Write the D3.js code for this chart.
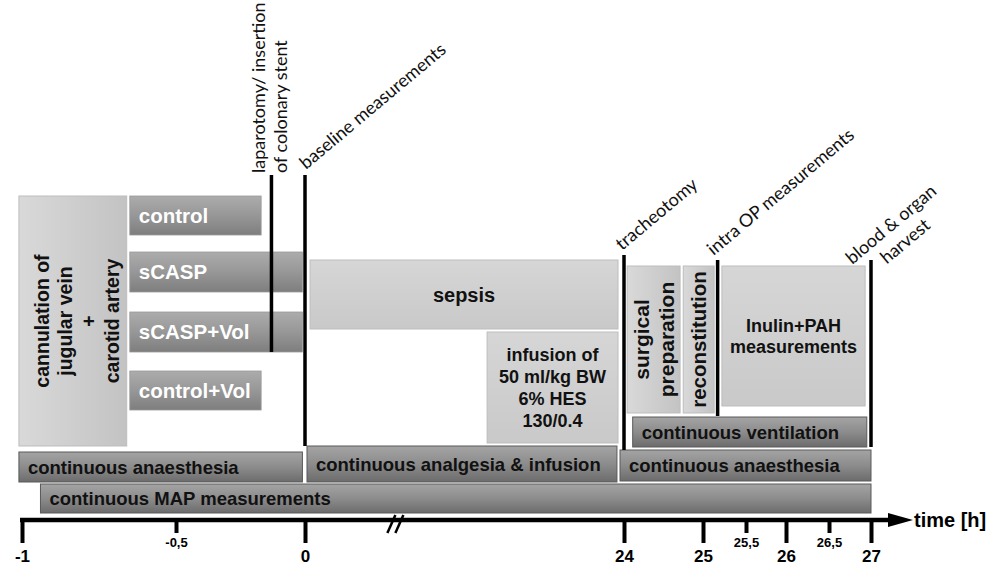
<!DOCTYPE html>
<html>
<head>
<meta charset="utf-8">
<script src="https://cdn.jsdelivr.net/npm/d3@7"></script>
<style>
  body { margin: 0; background: #fff; }
  svg { display: block; }
  .box-label { font-family: "Liberation Sans", Arial, sans-serif; font-weight: bold; }
  .event-label { font-family: Lato, "Open Sans", sans-serif; }
</style>
</head>
<body>
<svg id="chart" width="1002" height="565"></svg>
<script>
// time axis (hours), broken between 0 and 24
const timeBreaks = [-1, -0.5, 0, 24, 25, 25.5, 26, 26.5, 27];
const majorTicks = [-1, 0, 24, 25, 26, 27];
const minorTicks = [-0.5, 25.5, 26.5];
const axisBreakAt = 6.8;

// groups (start / end in hours)
const groups = ["control", "sCASP", "sCASP+Vol", "control+Vol"];
const groupStart = [-0.65, -0.65, -0.65, -0.65];
const groupEnd = [-0.17, -0.01, -0.01, -0.17];

// light procedure boxes
const procLabels = [
  ["cannulation of", "jugular vein", "+", "carotid artery"],
  ["sepsis"],
  ["infusion of", "50 ml/kg BW", "6% HES", "130/0.4"],
  ["surgical", "preparation"],
  ["reconstitution"],
  ["Inulin+PAH", "measurements"]
];
const procStart = [-1.01, 0.38, 13.7, 24.04, 24.75, 25.22];
const procEnd = [-0.66, 23.55, 23.55, 24.71, 25.13, 26.93];
const procLane = ["cannulation", "sepsis", "infusion", "prep", "prep", "inulin"];

// continuous bars
const contLabels = [
  "continuous anaesthesia",
  "continuous analgesia & infusion",
  "continuous anaesthesia",
  "continuous MAP measurements",
  "continuous ventilation"
];
const contStart = [-1.01, 0.15, 23.7, -0.94, 24.11];
const contEnd = [-0.01, 23.47, 27, 27, 26.95];
const contLane = ["anaesL", "analgesia", "anaesR", "map", "vent"];

// events (vertical markers)
const eventTimes = [-0.13, 0, 24, 25.17, 27];
const eventLabels = [
  ["laparotomy/ insertion", "of colonary stent"],
  ["baseline measurements"],
  ["tracheotomy"],
  ["intra OP measurements"],
  ["blood & organ", "harvest"]
];
const eventLane = ["lapa", "base", "trach", "intra", "harvest"];

// ---- layout ----
const svg = d3.select("#chart");
const axisY = 520;

const x = d3.scaleLinear()
  .domain(timeBreaks)
  .range([22, 176, 305, 624, 703, 746, 786, 829, 871]);

// vertical extents of each lane
const lanes = {
  cannulation: [196, 446],
  g0: [196, 235], g1: [252, 292], g2: [312, 352], g3: [371, 410],
  sepsis: [260, 329],
  infusion: [332, 443],
  prep: [266, 413],
  inulin: [266, 406],
  vent: [417, 447],
  anaesL: [452, 482],
  analgesia: [446, 482],
  anaesR: [450, 481],
  map: [484, 513],
  lapa: [175, 352], base: [175, 446], trach: [255, 450], intra: [260, 416], harvest: [260, 447]
};

const defs = svg.append("defs");
function grad(id, stops, horizontal) {
  var g = defs.append("linearGradient").attr("id", id)
    .attr("x1", 0).attr("y1", 0)
    .attr("x2", horizontal ? 1 : 0).attr("y2", horizontal ? 0 : 1);
  stops.forEach(function (c, i) {
    g.append("stop").attr("offset", i / (stops.length - 1)).attr("stop-color", c);
  });
}
grad("dark", ["#a4a4a4", "#8c8c8c", "#6c6c6c"]);
grad("group", ["#acacac", "#979797", "#7e7e7e"]);
grad("light", ["#d6d6d6", "#c9c9c9"]);
grad("lightH", ["#d9d9d9", "#c3c3c3"], true);

// light boxes
var procs = procLabels.map(function (l, i) {
  return { label: l, start: procStart[i], end: procEnd[i], lane: lanes[procLane[i]], i: i };
});
var pg = svg.append("g").selectAll("g").data(procs).enter().append("g");
pg.append("rect")
  .attr("x", function (d) { return x(d.start); })
  .attr("y", function (d) { return d.lane[0]; })
  .attr("width", function (d) { return x(d.end) - x(d.start); })
  .attr("height", function (d) { return d.lane[1] - d.lane[0]; })
  .attr("fill", function (d) { return (d.i === 0 || d.i === 3 || d.i === 4) ? "url(#lightH)" : "url(#light)"; })
  .attr("stroke", "#bdbdbd")
  .attr("stroke-width", 1);

var vertical = [true, false, false, true, true, false];
var procFont = [19.5, 20, 18, 21, 20.5, 18];
var procGap = [23.5, 22, 21.7, 25, 22, 21];
pg.each(function (d) {
  var cx = (x(d.start) + x(d.end)) / 2;
  var cy = (d.lane[0] + d.lane[1]) / 2;
  if (d.i === 0) cx += 4;
  var n = d.label.length;
  var gap = procGap[d.i];
  var t = d3.select(this).append("text")
    .attr("class", "box-label")
    .attr("text-anchor", "middle")
    .attr("fill", "#111")
    .style("font-size", procFont[d.i] + "px")
    .attr("transform", "translate(" + cx + "," + cy + ")" + (vertical[d.i] ? " rotate(-90)" : ""));
  t.selectAll("tspan").data(d.label).enter().append("tspan")
    .attr("x", 0)
    .attr("y", function (s, j) { return (j - (n - 1) / 2) * gap; })
    .attr("dy", "0.36em")
    .text(function (s) { return s; });
});

// group bars
var gdata = groups.map(function (g, i) {
  return { label: g, start: groupStart[i], end: groupEnd[i], lane: lanes["g" + i] };
});
var gg = svg.append("g").selectAll("g").data(gdata).enter().append("g");
gg.append("rect")
  .attr("x", function (d) { return x(d.start); })
  .attr("y", function (d) { return d.lane[0]; })
  .attr("width", function (d) { return x(d.end) - x(d.start); })
  .attr("height", function (d) { return d.lane[1] - d.lane[0]; })
  .attr("fill", "url(#group)")
  .attr("stroke", "#9a9a9a")
  .attr("stroke-width", 0.8);
gg.append("text")
  .attr("class", "box-label")
  .attr("x", function (d) { return x(d.start) + 9; })
  .attr("y", function (d) { return (d.lane[0] + d.lane[1]) / 2; })
  .attr("dy", "0.36em")
  .attr("fill", "#fff")
  .style("font-size", "20.5px")
  .text(function (d) { return d.label; });

// continuous bars
var cdata = contLabels.map(function (l, i) {
  return { label: l, start: contStart[i], end: contEnd[i], lane: lanes[contLane[i]] };
});
var cg = svg.append("g").selectAll("g").data(cdata).enter().append("g");
cg.append("rect")
  .attr("x", function (d) { return x(d.start); })
  .attr("y", function (d) { return d.lane[0]; })
  .attr("width", function (d) { return x(d.end) - x(d.start); })
  .attr("height", function (d) { return d.lane[1] - d.lane[0]; })
  .attr("fill", "url(#dark)")
  .attr("stroke", "#5a5a5a")
  .attr("stroke-width", 1);
cg.append("text")
  .attr("class", "box-label")
  .attr("x", function (d) { return x(d.start) + 9; })
  .attr("y", function (d) { return (d.lane[0] + d.lane[1]) / 2; })
  .attr("dy", "0.36em")
  .attr("fill", "#111")
  .style("font-size", "18.5px")
  .text(function (d) { return d.label; });

// event markers
var edata = eventTimes.map(function (t, i) {
  return { t: t, label: eventLabels[i], lane: lanes[eventLane[i]], i: i };
});
var eg = svg.append("g").selectAll("g").data(edata).enter().append("g");
eg.append("line")
  .attr("x1", function (d) { return x(d.t); })
  .attr("x2", function (d) { return x(d.t); })
  .attr("y1", function (d) { return d.lane[0]; })
  .attr("y2", function (d) { return d.lane[1]; })
  .attr("stroke", "#000")
  .attr("stroke-width", 3.5);

// label placement relative to the line top: dx, dy, angle, anchor
var labelPos = [
  [-6, -2, -90, "start"],
  [1, -5, -40, "start"],
  [-2, -4, -40, "start"],
  [-4, -4, -40, "start"],
  [24, -31, -40, "middle"]
];
eg.each(function (d) {
  var p = labelPos[d.i];
  var t = d3.select(this).append("text")
    .attr("class", "event-label")
    .attr("fill", "#111")
    .attr("text-anchor", p[3])
    .style("font-size", "18px")
    .attr("transform", "translate(" + (x(d.t) + p[0]) + "," + (d.lane[0] + p[1]) + ") rotate(" + p[2] + ")");
  t.selectAll("tspan").data(d.label).enter().append("tspan")
    .attr("x", 0)
    .attr("y", function (s, j) { return j * 22; })
    .text(function (s) { return s; });
});

// time axis
var fmt = function (v) { return String(v).replace(".", ","); };
var axMajor = svg.append("g")
  .attr("transform", "translate(0," + axisY + ")")
  .call(d3.axisBottom(x).tickValues(majorTicks).tickSize(23).tickPadding(7).tickFormat(fmt));
var axMinor = svg.append("g")
  .attr("transform", "translate(0," + axisY + ")")
  .call(d3.axisBottom(x).tickValues(minorTicks).tickSize(13).tickPadding(5).tickFormat(fmt));
[axMajor, axMinor].forEach(function (a) {
  a.select(".domain").remove();
  a.selectAll(".tick line").attr("stroke", "#000").attr("stroke-width", 4);
  a.selectAll(".tick text")
    .attr("fill", "#000")
    .style("font-family", "'Liberation Sans', Arial, sans-serif")
    .style("font-weight", "bold");
});
axMajor.selectAll(".tick text").style("font-size", "17px");
axMinor.selectAll(".tick text").style("font-size", "13px");

svg.append("line")
  .attr("x1", x(-1) - 2).attr("x2", 892)
  .attr("y1", axisY).attr("y2", axisY)
  .attr("stroke", "#000").attr("stroke-width", 4.5);
svg.append("path")
  .attr("d", "M888," + (axisY - 7) + "L913," + axisY + "L888," + (axisY + 7) + "Z")
  .attr("fill", "#000");
svg.append("text")
  .attr("class", "box-label")
  .attr("x", 914).attr("y", axisY + 7)
  .style("font-size", "20px")
  .attr("fill", "#000")
  .text("time [h]");

// axis break
var bx = x(axisBreakAt);
[-4, 4].forEach(function (o) {
  svg.append("line")
    .attr("x1", bx + o - 4).attr("y1", axisY + 13)
    .attr("x2", bx + o + 4).attr("y2", axisY - 5)
    .attr("stroke", "#000").attr("stroke-width", 2.5);
});
</script>
</body>
</html>
